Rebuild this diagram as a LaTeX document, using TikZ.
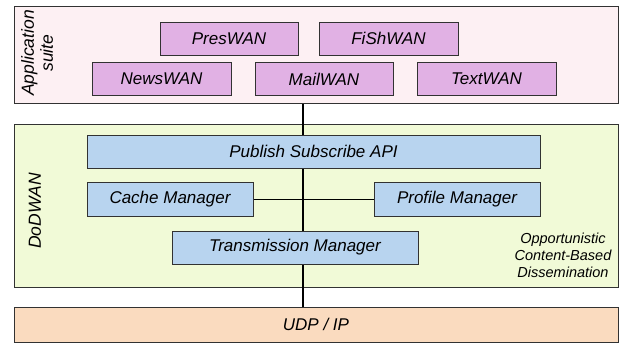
\documentclass[tikz,border=0pt]{standalone}
\usepackage{fontspec}
\setmainfont{Liberation Sans}
\pgfdeclarelayer{bglayer}
\pgfdeclarelayer{linelayer}
\pgfsetlayers{bglayer,linelayer,main}
\definecolor{appbg}{RGB}{253,240,243}
\definecolor{appbox}{RGB}{225,177,228}
\definecolor{dodbg}{RGB}{241,250,215}
\definecolor{bluebox}{RGB}{184,212,239}
\definecolor{udpbg}{RGB}{250,219,191}
\definecolor{edge}{RGB}{50,50,50}
\tikzset{
  container/.style={draw=edge, line width=1pt, inner sep=0pt, outer sep=0pt},
  appbx/.style={draw=edge, line width=0.9pt, fill=appbox, minimum height=33pt, inner sep=0pt, outer sep=0pt, font=\fontsize{17}{20}\selectfont\itshape},
  bluebx/.style={draw=edge, line width=0.9pt, fill=bluebox, minimum height=34pt, inner sep=0pt, outer sep=0pt, font=\fontsize{17}{20}\selectfont\itshape},
  sidelabel/.style={rotate=90, align=center, font=\fontsize{17.5}{19}\selectfont\itshape},
  conn/.style={line width=1.4pt, black},
}
\begin{document}
\begin{tikzpicture}[x=1pt,y=-1pt]
\useasboundingbox (0,0) rectangle (622,345);
% containers
\begin{pgfonlayer}{bglayer}
\node[container, fill=appbg, minimum width=604pt, minimum height=97pt, anchor=north west] (app) at (14,7) {};
\node[container, fill=dodbg, minimum width=604pt, minimum height=162pt, anchor=north west] (dod) at (14,125) {};
\node[container, fill=udpbg, minimum width=604pt, minimum height=35pt, anchor=north west, font=\fontsize{17}{20}\selectfont\itshape] (udp) at (14,307) {UDP / IP};
\end{pgfonlayer}
\node[sidelabel] (applabel) at (37,53) {Application\\suite};
\node[sidelabel] (dodlabel) at (35,211) {DoDWAN};
% application boxes
\node[appbx, minimum width=138pt] (pres) at (229,38.5) {PresWAN};
\node[appbx, minimum width=139pt] (fish) at (388.5,38.5) {FiShWAN};
\node[appbx, minimum width=139pt] (news) at (161.5,79) {NewsWAN};
\node[appbx, minimum width=138pt] (mail) at (324,79) {MailWAN};
\node[appbx, minimum width=139pt] (text) at (486.5,79) {TextWAN};
% DoDWAN boxes
\node[bluebx, minimum width=453pt, minimum height=33pt] (pub) at (313.5,151.5) {Publish Subscribe API};
\node[bluebx, minimum width=166pt] (cache) at (170,199.5) {Cache Manager};
\node[bluebx, minimum width=166pt] (prof) at (457,199.5) {Profile Manager};
\node[bluebx, minimum width=246pt, minimum height=33pt] (trans) at (295,247.5) {Transmission Manager};
\node[align=center, font=\fontsize{14.5}{17}\selectfont\itshape] (ocbd) at (563,255) {Opportunistic\\Content-Based\\Dissemination};
% connectors
\coordinate (bus) at (303,0);
\begin{pgfonlayer}{linelayer}
\draw[conn] (app.south -| bus) -- (trans.north -| bus);
\draw[conn, line width=1.1pt] (cache.east) -- (prof.west);
\draw[conn] (trans.south -| bus) -- (udp.north -| bus);
\end{pgfonlayer}
\end{tikzpicture}
\end{document}
